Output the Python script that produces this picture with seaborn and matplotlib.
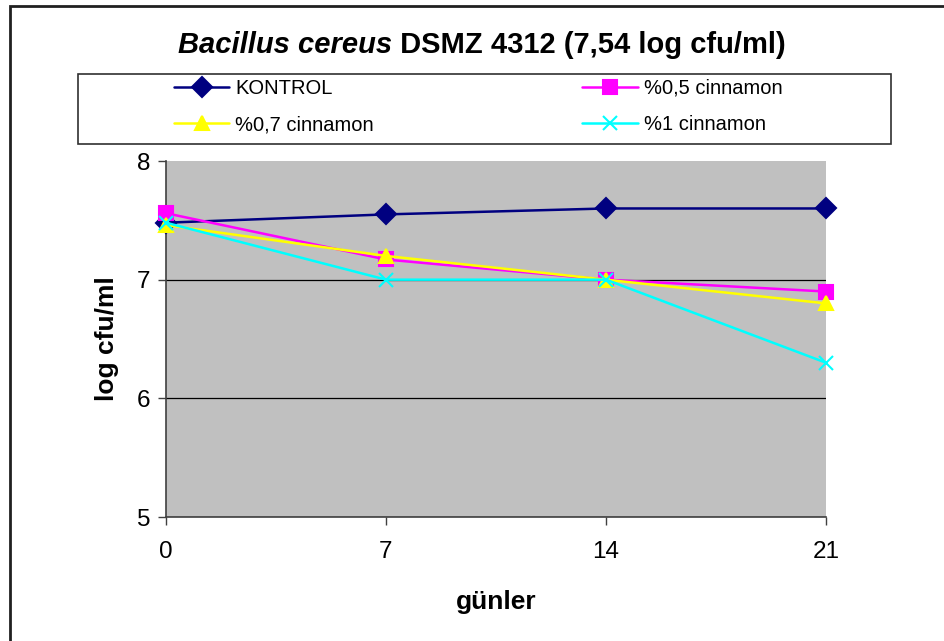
import pandas as pd
import matplotlib
matplotlib.use("Agg")
import matplotlib.pyplot as plt
import seaborn as sns
from matplotlib.patches import Rectangle

# values
days = [0, 7, 14, 21]
kontrol = [7.48, 7.55, 7.60, 7.60]
cin_05 = [7.56, 7.17, 7.00, 6.90]
cin_07 = [7.46, 7.20, 7.00, 6.80]
cin_1 = [7.48, 7.00, 7.00, 6.30]
series_names = ["KONTROL", "%0,5 cinnamon", "%0,7 cinnamon", "%1 cinnamon"]
colors = ["#000080", "#FF00FF", "#FFFF00", "#00FFFF"]
markers = ["D", "s", "^", "x"]
yticks = [5, 6, 7, 8]

df = pd.DataFrame({
    "gün": days * 4,
    "log": kontrol + cin_05 + cin_07 + cin_1,
    "seri": sum([[n] * len(days) for n in series_names], []),
})

sns.set_style("white")
plt.rcParams["font.family"] = ["Liberation Sans", "DejaVu Sans"]
plt.rcParams["text.color"] = "black"
plt.rcParams["axes.labelcolor"] = "black"
plt.rcParams["xtick.labelcolor"] = "black"
plt.rcParams["ytick.labelcolor"] = "black"

W, H = 945, 641
fig = plt.figure(figsize=(W / 100, H / 100), dpi=100)
ax = fig.add_axes([166 / W, 1 - 517 / H, 660 / W, 356 / H])
ax.set_facecolor("#C0C0C0")

# filled and line-art markers can't be mixed in one call, so one call per series
for name, c, m in zip(series_names, colors, markers):
    sns.lineplot(data=df[df["seri"] == name], x="gün", y="log",
                 color=c, marker=m, markersize=10, linewidth=1.8,
                 markeredgewidth=1.5, markeredgecolor=c,
                 ax=ax, clip_on=False, zorder=3)

ax.set_xlim(0, 21)
ax.set_ylim(5, 8)
ax.set_xticks(days)
ax.set_yticks(yticks)
ax.tick_params(axis="both", labelsize=17.5, length=6, width=1, color="#404040",
               labelcolor="black", direction="out", left=True, bottom=True)
ax.tick_params(axis="x", pad=11)
ax.tick_params(axis="y", pad=5)
ax.yaxis.grid(True, color="black", linewidth=0.9)
ax.yaxis.get_gridlines()[-1].set_visible(False)
ax.set_axisbelow(True)
for s in ["top", "right"]:
    ax.spines[s].set_visible(False)
for s in ["left", "bottom"]:
    ax.spines[s].set_color("#404040")
    ax.spines[s].set_linewidth(1.2)

ax.set_xlabel("günler", fontsize=19, fontweight="bold", labelpad=20, color="black")
ax.set_ylabel("log cfu/ml", fontsize=19, fontweight="bold", labelpad=13, color="black")

# title: italic species name + bold rest
renderer = fig.canvas.get_renderer()
t1 = fig.text(0, 0, "Bacillus cereus", fontsize=21, fontweight="bold",
              style="italic", color="black")
t2 = fig.text(0, 0, " DSMZ 4312 (7,54 log cfu/ml)", fontsize=21,
              fontweight="bold", color="black")
w1 = t1.get_window_extent(renderer).width
w2 = t2.get_window_extent(renderer).width
x0 = 482 - (w1 + w2) / 2
ty = 1 - 53 / H
t1.set_position((x0 / W, ty))
t2.set_position(((x0 + w1) / W, ty))

# legend, filled row by row like the original
handles = [plt.Line2D([], [], color=c, marker=m, markersize=10, linewidth=1.8,
                      markeredgewidth=1.5, markeredgecolor=c)
           for c, m in zip(colors, markers)]
order = [0, 2, 1, 3]
leg = fig.legend([handles[i] for i in order], [series_names[i] for i in order],
                 loc="upper left", ncol=2, frameon=False,
                 bbox_to_anchor=(174 / W, 1 - 79 / H), borderpad=0, borderaxespad=0,
                 fontsize=14.5, handlelength=2.75, handletextpad=0.3,
                 columnspacing=10.35, labelspacing=0.85)
for t in leg.get_texts():
    t.set_color("black")
fig.add_artist(Rectangle((78 / W, 1 - 144 / H), 813 / W, 70 / H,
                         transform=fig.transFigure, fill=False,
                         edgecolor="#303030", linewidth=1.2))
# outer chart frame
fig.add_artist(Rectangle((10 / W, -0.1), 1.2, 1.1 - 6 / H,
                         transform=fig.transFigure, fill=False,
                         edgecolor="#202020", linewidth=2))

fig.savefig("out.png", dpi=100)
